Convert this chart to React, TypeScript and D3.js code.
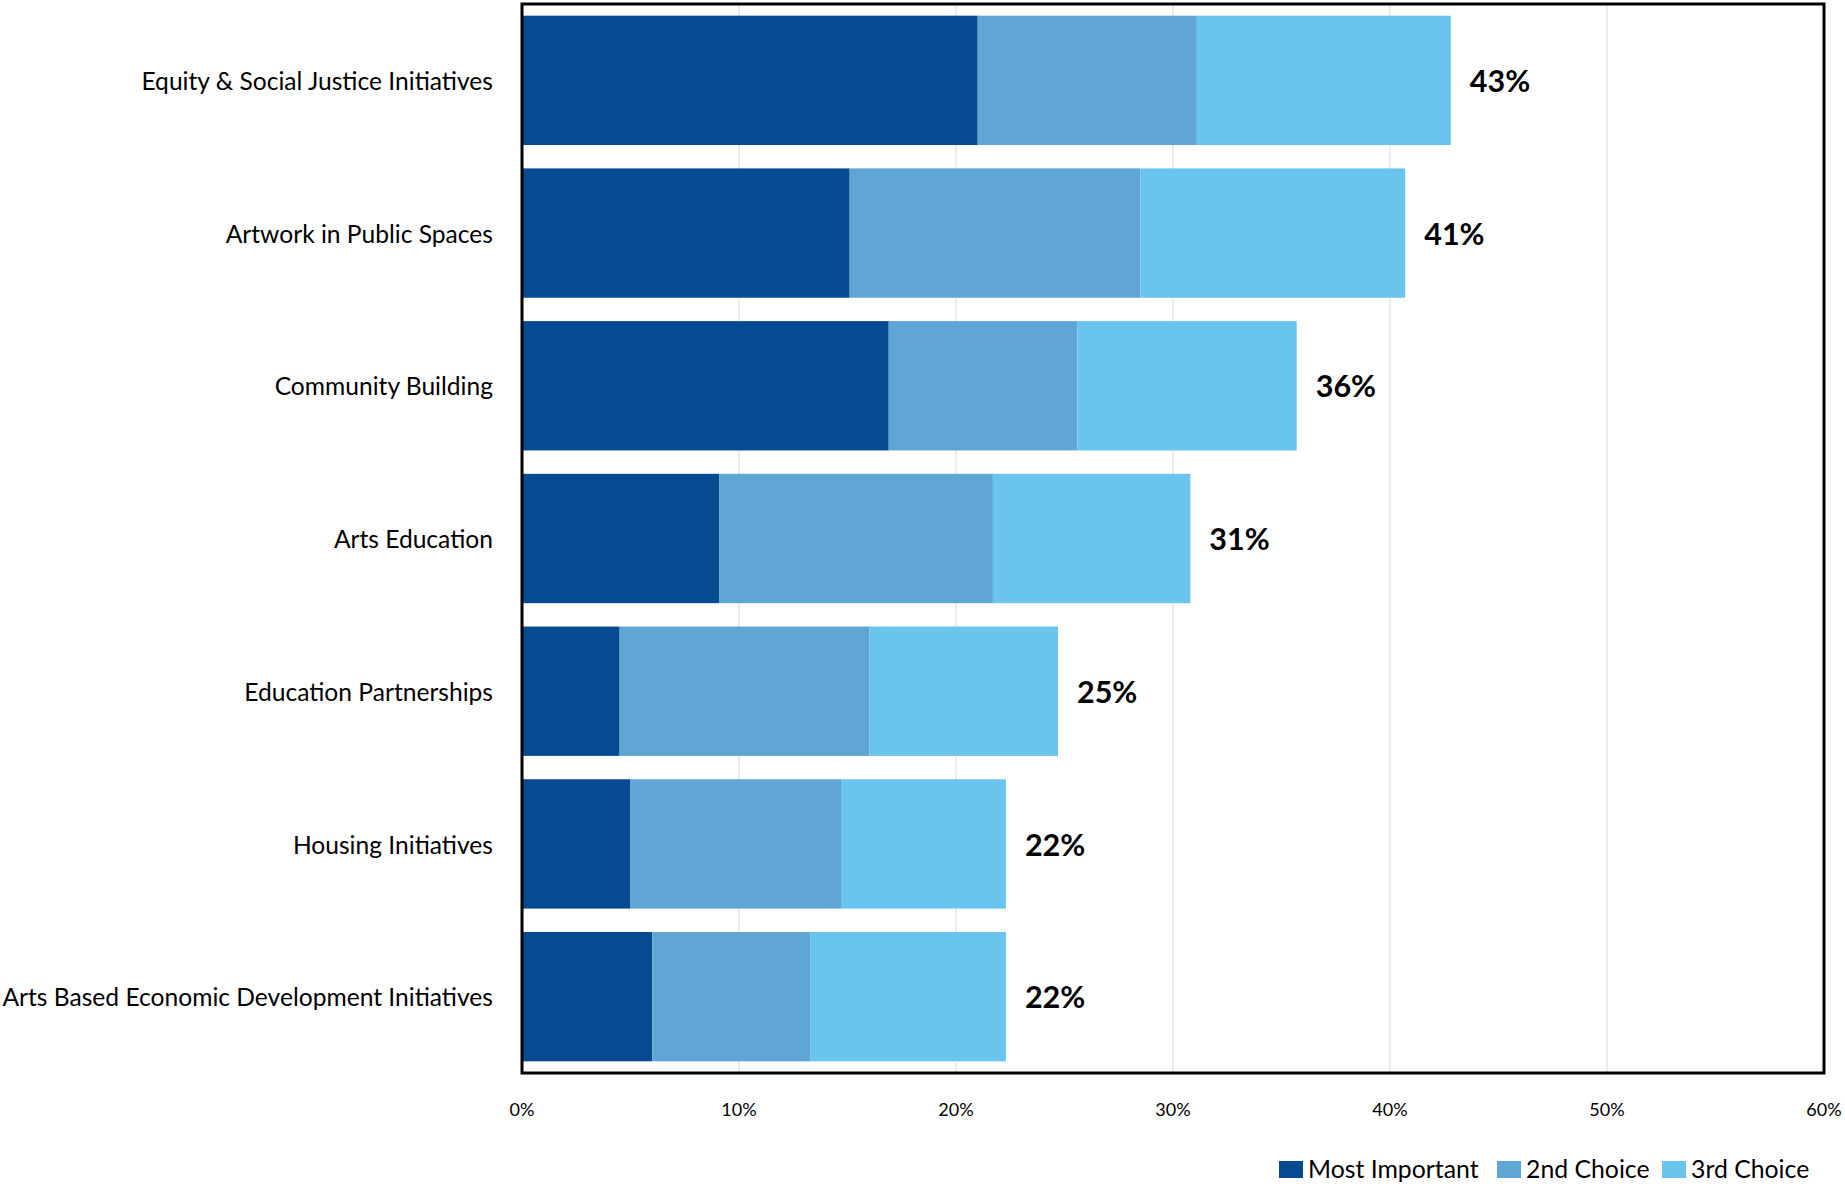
import React from "react";
import * as d3 from "d3";

const categories = [
  "Equity & Social Justice Initiatives",
  "Artwork in Public Spaces",
  "Community Building",
  "Arts Education",
  "Education Partnerships",
  "Housing Initiatives",
  "Arts Based Economic Development Initiatives",
];
const mostImportant = [21.0, 15.1, 16.9, 9.1, 4.5, 5.0, 6.0];
const secondChoice = [10.1, 13.4, 8.7, 12.6, 11.5, 9.7, 7.3];
const thirdChoice = [11.7, 12.2, 10.1, 9.1, 8.7, 7.6, 9.0];
const seriesNames = ["Most Important", "2nd Choice", "3rd Choice"];
const seriesColors = ["#064A91", "#5FA6D4", "#69C5EE"];
const xTicks = [0, 10, 20, 30, 40, 50, 60];

const W = 1845;
const H = 1184;
const FONT = "Lato, 'Open Sans', sans-serif";

export default function App() {
  const left = 522;
  const right = 1824;
  const top = 4;
  const bottom = 1073;

  const x = d3.scaleLinear().domain([0, 60]).range([left, right]);
  const y = d3
    .scaleBand<string>()
    .domain(categories)
    .range([top, bottom])
    .paddingInner(0.153)
    .paddingOuter(0.0765);

  const rows = categories.map((c, i) => ({
    cat: c,
    mostImportant: mostImportant[i],
    second: secondChoice[i],
    third: thirdChoice[i],
  }));
  const stack = d3.stack<any>().keys(["mostImportant", "second", "third"]);
  const stacked = stack(rows);

  return (
    <div style={{ position: "absolute", left: 0, top: 0 }}>
      <svg width={W} height={H} style={{ display: "block", background: "#fff" }}>
        {xTicks.slice(1, -1).map((t) => (
          <line
            key={"g" + t}
            x1={x(t)}
            x2={x(t)}
            y1={top}
            y2={bottom}
            stroke="#D9D9D9"
            strokeWidth={1}
          />
        ))}
        {stacked.map((s, si) => (
          <g key={s.key} fill={seriesColors[si]}>
            {s.map((d, i) => (
              <rect
                key={i}
                x={x(d[0])}
                width={x(d[1]) - x(d[0])}
                y={y(categories[i])!}
                height={y.bandwidth()}
              />
            ))}
          </g>
        ))}
        {rows.map((r, i) => {
          const total = r.mostImportant + r.second + r.third;
          return (
            <text
              key={"v" + i}
              x={x(total) + 19}
              y={y(r.cat)! + y.bandwidth() / 2 + 1}
              dy="0.35em"
              fontFamily={FONT}
              fontWeight={700}
              fontSize={30.5}
              fill="#000"
            >
              {Math.round(total) + "%"}
            </text>
          );
        })}
        {categories.map((c) => (
          <text
            key={c}
            x={493}
            y={y(c)! + y.bandwidth() / 2 + 1}
            dy="0.35em"
            textAnchor="end"
            fontFamily={FONT}
            fontSize={24.6}
            fill="#000"
          >
            {c}
          </text>
        ))}
        <rect
          x={left}
          y={top}
          width={right - left}
          height={bottom - top}
          fill="none"
          stroke="#000"
          strokeWidth={3}
        />
        {xTicks.map((t) => (
          <text
            key={"t" + t}
            x={x(t)}
            y={1110}
            dy="0.35em"
            textAnchor="middle"
            fontFamily={FONT}
            fontSize={18}
            fill="#000"
          >
            {t + "%"}
          </text>
        ))}
        {seriesNames.map((n, i) => {
          const lx = [1279, 1497, 1662][i];
          return (
            <g key={n}>
              <rect x={lx} y={1161} width={24} height={17} fill={seriesColors[i]} />
              <text x={lx + 29} y={1178} fontFamily={FONT} fontSize={24.8} fill="#000">
                {n}
              </text>
            </g>
          );
        })}
      </svg>
    </div>
  );
}
